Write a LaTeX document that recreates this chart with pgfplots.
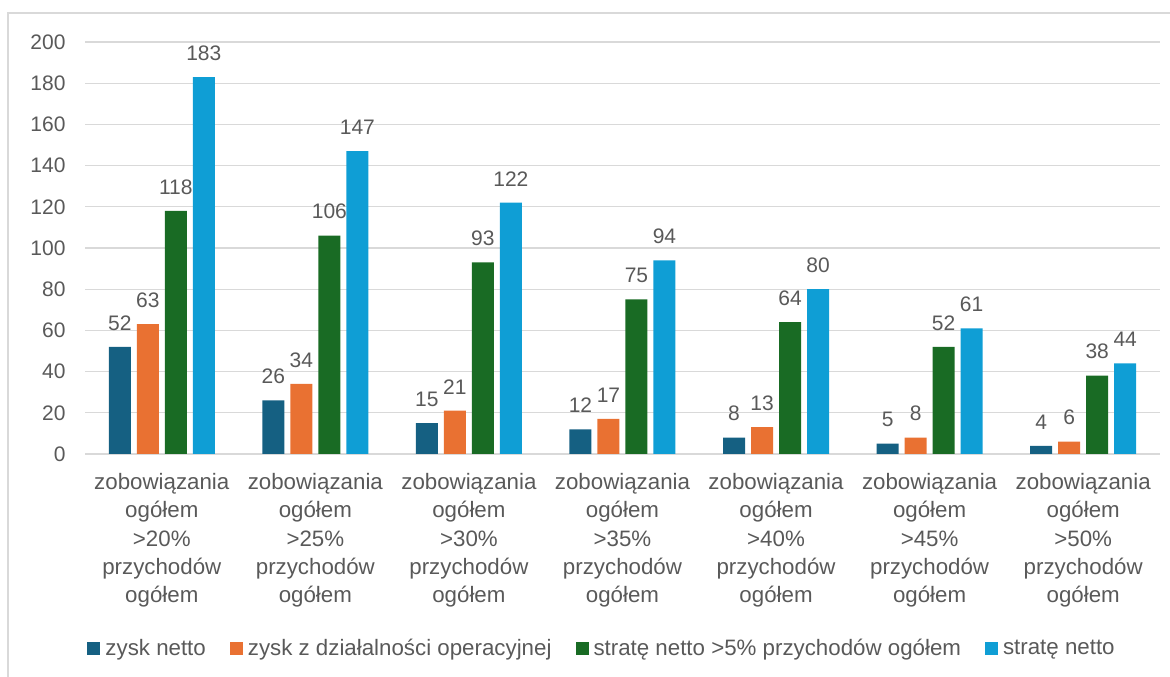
\documentclass[border=0pt]{standalone}
\usepackage{pgfplots}
\pgfplotsset{compat=1.18}
\usepackage{fontspec}
\setmainfont{Liberation Sans}
\definecolor{cA}{HTML}{156082}
\definecolor{cB}{HTML}{E97132}
\definecolor{cC}{HTML}{196B24}
\definecolor{cD}{HTML}{0F9ED5}
\definecolor{txt}{HTML}{595959}
\definecolor{grd}{HTML}{D9D9D9}
\begin{document}
\begin{tikzpicture}[x=1pt,y=1pt]
\draw[grd, line width=1.5pt] (8,-5) -- (8,664) -- (1180,664);
\begin{axis}[
  at={(85pt,223pt)}, anchor=south west,
  scale only axis, width=1075pt, height=412pt,
  ybar=6pt, bar width=22pt,
  ymin=0, ymax=200, ytick={0,20,...,200},
  xmin=-0.5, xmax=6.5, xtick={0,...,6},
  xticklabels={
    zobowiązania\\ogółem\\>20\%\\przychodów\\ogółem,
    zobowiązania\\ogółem\\>25\%\\przychodów\\ogółem,
    zobowiązania\\ogółem\\>30\%\\przychodów\\ogółem,
    zobowiązania\\ogółem\\>35\%\\przychodów\\ogółem,
    zobowiązania\\ogółem\\>40\%\\przychodów\\ogółem,
    zobowiązania\\ogółem\\>45\%\\przychodów\\ogółem,
    zobowiązania\\ogółem\\>50\%\\przychodów\\ogółem},
  x tick label style={align=center, font=\fontsize{22.3}{28.3}\selectfont, text=txt, anchor=north, yshift=-16pt},
  y tick label style={font=\fontsize{21}{24}\selectfont, text=txt, xshift=-16pt},
  /pgf/number format/assume math mode=true,
  ymajorgrids, grid style={grd, line width=1.2pt},
  axis line style={draw=none}, major tick length=0pt,
  nodes near coords,
  nodes near coords style={font=\fontsize{21}{24}\selectfont, text=txt, yshift=13pt},
  legend columns=4,
  legend style={at={(0.481,-0.471)}, anchor=center, draw=none, fill=none,
    font=\fontsize{22.3}{24}\selectfont, text=txt,
    /tikz/every even column/.append style={column sep=22pt}},
  legend image code/.code={\path[#1] (0pt,-6.5pt) rectangle (13pt,6.5pt); \path (16pt,0pt);},
  clip=false,
]
\addplot[fill=cA, draw=none] coordinates {(0,52) (1,26) (2,15) (3,12) (4,8) (5,5) (6,4)};
\addplot[fill=cB, draw=none] coordinates {(0,63) (1,34) (2,21) (3,17) (4,13) (5,8) (6,6)};
\addplot[fill=cC, draw=none] coordinates {(0,118) (1,106) (2,93) (3,75) (4,64) (5,52) (6,38)};
\addplot[fill=cD, draw=none] coordinates {(0,183) (1,147) (2,122) (3,94) (4,80) (5,61) (6,44)};
\legend{zysk netto, zysk z działalności operacyjnej, stratę netto >5\% przychodów ogółem, stratę netto}
\end{axis}
\pgfresetboundingbox
\path (0,0) rectangle (1170,677);
\end{tikzpicture}
\end{document}
